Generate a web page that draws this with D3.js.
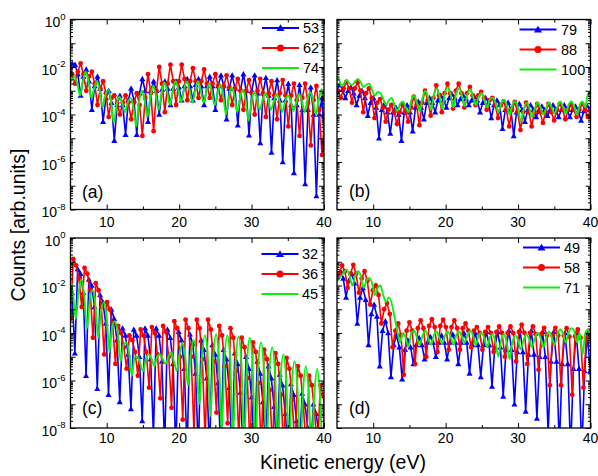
<!DOCTYPE html>
<html><head><meta charset="utf-8">
<script src="https://cdn.jsdelivr.net/npm/d3@7"></script>
<style>
body{margin:0;background:#fff}
svg{display:block}
text{font-family:"Liberation Sans",Arial,sans-serif;fill:#000}
</style>
</head><body>
<svg id="chart" width="598" height="476"></svg>
<script>
// ---------------- data (log10 of counts on a uniform energy grid) ----------------
const energyStep = 0.3875;           // eV between successive points
const xDomain = [5, 40];
const yDomain = [1e-8, 1];
const xMajorTicks = [10, 20, 30, 40];
const xMinorTicks = [15, 25, 35];
const yLabelExponents = [0, -2, -4, -6, -8];
const panelTags = ["(a)", "(b)", "(c)", "(d)"];
const legendA = ["53", "62", "74"];
const legendB = ["79", "88", "100"];
const legendC = ["32", "36", "45"];
const legendD = ["49", "58", "71"];

// panel (a)
const startA1 = 4.85;
const logA1 = [-2.3,-1.85,
 -1.9,-2.3,-3.2,-2.4, -2.1,-2.6,-3.8,-2.8, -2.4,-2.9,-4.3,-3.3, -3.0,-3.5,-5.1,-3.6,
 -3.2,-3.6,-4.85,-3.4, -2.9,-3.4,-4.85,-3.1, -2.5,-3.0,-4.3,-3.0, -2.6,-3.0,-4.0,-2.95,
 -2.6,-2.9,-3.6,-2.9, -2.6,-2.85,-3.4,-2.8, -2.5,-2.8,-3.4,-2.75, -2.5,-2.8,-3.6,-2.8,
 -2.4,-2.8,-3.8,-2.8, -2.35,-2.8,-4.2,-2.9, -2.35,-2.9,-4.45,-2.95, -2.3,-3.0,-4.87,-3.0,
 -2.35,-3.1,-5.2,-3.1, -2.45,-3.2,-5.6,-3.3, -2.55,-3.4,-6.0,-3.4, -2.7,-3.6,-6.46,-3.6,
 -2.75,-3.8,-6.93,-3.8, -2.85,-4.0,-7.43,-4.0, -3.3,-5.5];
const startA2 = 4.85;
const logA2 = [-2.0,-2.3,-2.7,-2.2, -1.85,-2.3,-3.0,-2.4, -2.2,-2.7,-3.6,-2.9, -2.6,-3.1,-4.1,-3.3,
 -3.2,-3.5,-4.0,-3.5, -3.2,-3.5,-4.2,-3.5, -3.1,-3.6,-4.9,-3.3, -2.3,-3.1,-4.7,-3.0,
 -2.0,-2.7,-3.9,-2.7, -1.9,-2.6,-3.6,-2.6, -1.9,-2.5,-3.4,-2.6, -2.05,-2.6,-3.3,-2.6,
 -2.1,-2.7,-3.3,-2.7, -2.3,-2.8,-3.4,-2.8, -2.35,-2.85,-3.6,-2.9, -2.5,-3.0,-3.8,-3.0,
 -2.55,-3.1,-4.0,-3.0, -2.5,-3.1,-4.1,-3.1, -2.6,-3.2,-4.2,-3.1, -2.55,-3.2,-4.5,-3.2,
 -2.7,-3.4,-4.9,-3.3, -2.7,-3.5,-5.3,-3.4, -2.8,-3.8,-5.7,-4.0];
const startA3 = 4.775;
const logA3 = [-2.8,-2.55,-2.4,-2.7, -3.2,-2.6,-2.2,-2.6, -3.3,-2.9,-2.6,-3.0, -3.7,-3.2,-2.95,-3.4,
 -4.35,-3.6,-3.25,-3.5, -3.9,-3.5,-3.3,-3.7, -4.5,-3.5,-3.0,-3.4, -4.1,-3.3,-2.8,-3.2,
 -3.8,-3.1,-2.65,-3.0, -3.6,-3.0,-2.6,-2.95, -3.5,-2.95,-2.6,-2.95, -3.5,-3.0,-2.6,-3.0,
 -3.5,-3.05,-2.7,-3.1, -3.6,-3.1,-2.75,-3.2, -4.0,-3.3,-2.85,-3.2, -3.9,-3.3,-2.95,-3.4,
 -4.25,-3.5,-3.05,-3.3, -3.8,-3.4,-3.1,-3.35, -3.8,-3.45,-3.15,-3.4, -3.9,-3.5,-3.2,-3.4,
 -3.85,-3.5,-3.15,-3.4, -3.9,-3.4,-3.05,-3.4, -4.0,-3.4,-2.95,-3.0];

// panel (b)
const startB1 = 4.6;
const logB1 = [-3.2,-3.0,-2.75,-2.95, -3.3,-3.0,-2.85,-3.1, -3.6,-3.2,-3.0,-3.3, -4.05,-3.5,-3.3,-3.7,
 -5.0,-3.8,-3.55,-3.9, -4.8,-3.9,-3.7,-4.0, -5.1,-3.9,-3.6,-3.9, -4.7,-3.7,-3.45,-3.7,
 -4.2,-3.5,-3.3,-3.5, -3.9,-3.4,-3.2,-3.4, -3.7,-3.3,-3.15,-3.3, -3.6,-3.35,-3.2,-3.35,
 -3.6,-3.4,-3.25,-3.4, -3.9,-3.5,-3.3,-3.5, -4.15,-3.6,-3.4,-3.6, -4.6,-3.8,-3.5,-3.8,
 -4.9,-3.9,-3.55,-3.8, -4.3,-3.8,-3.6,-3.8, -4.1,-3.8,-3.65,-3.8, -4.05,-3.8,-3.6,-3.8,
 -4.1,-3.8,-3.6,-3.8, -4.1,-3.8,-3.65,-3.85, -4.25,-3.85,-3.6,-3.8, -4.2];
const startB2 = 4.75;
const logB2 = [-2.8,-3.0,-3.3,-2.9, -2.63,-2.9,-3.5,-2.9, -2.65,-3.0,-3.9,-3.1, -2.9,-3.3,-4.15,-3.5,
 -3.35,-3.7,-4.3,-3.8, -3.6,-3.9,-4.4,-3.9, -3.6,-3.9,-4.3,-3.7, -3.25,-3.6,-4.45,-3.5,
 -3.0,-3.4,-4.05,-3.3, -2.77,-3.2,-3.9,-3.1, -2.7,-3.1,-3.75,-3.0, -2.7,-3.1,-3.7,-3.1,
 -2.84,-3.2,-3.6,-3.2, -3.05,-3.3,-3.8,-3.4, -3.3,-3.6,-4.15,-3.6, -3.45,-3.8,-4.5,-3.8,
 -3.47,-3.9,-4.65,-3.9, -3.5,-3.9,-4.5,-3.9, -3.55,-3.9,-4.35,-3.9, -3.55,-3.9,-4.25,-3.8,
 -3.55,-3.8,-4.2,-3.8, -3.6,-3.8,-4.1,-3.8, -3.55,-3.8,-4.1,-3.8, -3.6];
const startB3 = 4.8;
const logB3 = [-2.6,-2.45,-2.8,-2.7, -2.55,-2.7,-2.75,-2.6, -2.5,-2.65,-2.85,-2.75, -2.7,-2.95,-3.2,-3.05,
 -3.1,-3.35,-3.6,-3.4, -3.3,-3.6,-3.85,-3.55, -3.45,-3.7,-3.9,-3.4, -3.2,-3.5,-3.85,-3.3,
 -3.0,-3.3,-3.8,-3.2, -2.9,-3.2,-3.75,-3.1, -2.85,-3.15,-3.7,-3.1, -2.9,-3.2,-3.65,-3.15,
 -2.95,-3.25,-3.6,-3.25, -3.1,-3.4,-3.7,-3.35, -3.3,-3.5,-3.9,-3.55, -3.4,-3.6,-4.0,-3.6,
 -3.45,-3.7,-4.3,-3.8, -3.5,-3.7,-4.1,-3.75, -3.5,-3.7,-4.0,-3.75, -3.5,-3.7,-3.95,-3.7,
 -3.45,-3.65,-3.95,-3.6, -3.45,-3.65,-4.0,-3.6, -3.45,-3.7,-3.1,-3.5];

// panel (c)
const startC1 = 4.05;
const logC1 = [-3.0,-1.5,-1.7,-2.3, -4.85,-1.3,-1.5,-2.3, -5.8,-1.75,-2.0,-2.9, -6.35,-2.4,-2.7,-3.6,
 -6.6,-3.0,-3.4,-4.3, -6.9,-3.8,-4.1,-4.9, -7.2,-3.85,-4.1,-5.0, -7.7,-3.8,-4.1,-5.1,
 -8.3,-3.8,-4.1,-5.2, -8.8,-3.85,-4.2,-5.3, -9,-3.95,-4.3,-5.5, -9,-4.05,-4.45,-5.7,
 -9,-4.3,-4.7,-5.9, -9,-4.5,-4.9,-6.1, -9,-4.7,-5.1,-6.3, -9,-4.85,-5.3,-6.5,
 -9,-5.0,-5.5,-6.7, -9,-5.2,-5.7,-6.9, -9,-5.4,-5.9,-7.1, -9,-5.75,-6.2,-7.4,
 -9,-6.15,-6.6,-7.7, -9,-6.55,-7.0,-8.0, -9,-7.0,-7.4,-8.3, -9,-7.4];
const startC2 = 5.0;
const logC2 = [-3.4,-0.88,-1.15,-1.7, -2.9,-1.26,-1.5,-2.2, -4.2,-1.9,-2.2,-2.9, -4.9,-2.7,-3.0,-3.6,
 -5.3,-3.7,-4.0,-4.6, -5.5,-4.1,-4.3,-4.8, -5.8,-3.85,-4.1,-4.8, -6.3,-3.75,-4.0,-4.9,
 -6.75,-3.7,-3.95,-5.0, -7.15,-3.5,-3.8,-5.0, -7.65,-3.44,-3.8,-5.0, -8.2,-3.44,-3.8,-5.1,
 -8.6,-3.44,-3.85,-5.2, -7.35,-3.7,-4.1,-5.4, -7.8,-3.8,-4.2,-5.6, -8.5,-4.2,-4.6,-5.9,
 -9,-4.4,-4.8,-6.1, -9,-4.7,-5.1,-6.4, -9,-4.85,-5.3,-6.6, -9,-5.05,-5.5,-6.8,
 -9,-5.4,-5.8,-7.1, -9,-5.8,-6.2,-7.4, -9,-6.2,-6.6,-7.7, -9];
const startC3 = 4.95;
const logC3 = [-1.7,-2.3,-3.4,-2.3, -1.75,-2.4,-3.8,-2.6, -2.2,-2.8,-4.2,-3.1, -2.7,-3.3,-4.8,-3.7,
 -3.5,-4.0,-5.2,-4.5, -4.4,-4.8,-5.8,-5.0, -5.0,-5.3,-5.6,-5.1, -4.9,-5.1,-5.4,-5.0,
 -4.9,-5.1,-5.3,-5.0, -4.8,-5.2,-5.6,-4.9, -4.4,-5.0,-6.2,-4.9, -4.3,-5.0,-7.0,-5.0,
 -4.1,-4.9,-7.5,-5.0, -4.05,-5.0,-8.2,-5.1, -4.1,-5.1,-8.5,-5.2, -4.15,-5.2,-8.8,-5.3,
 -4.2,-5.3,-9,-5.4, -4.4,-5.5,-9,-5.6, -4.6,-5.7,-9,-5.8, -4.9,-6.0,-9,-6.1,
 -5.2,-6.3,-9,-6.4, -5.4,-6.5,-9,-6.6, -5.5,-6.6,-9,-6.8];

// panel (d)
const startD1 = 4.7;
const logD1 = [-1.9,-1.6,-1.4,-1.7, -2.5,-1.8,-1.5,-1.9, -3.6,-2.5,-2.1,-2.6, -4.5,-3.2,-2.8,-3.3,
 -5.4,-3.9,-3.5,-4.0, -5.85,-4.5,-4.1,-4.6, -5.95,-4.7,-4.3,-4.6, -5.3,-4.5,-4.2,-4.5,
 -5.1,-4.4,-4.15,-4.4, -5.0,-4.4,-4.1,-4.4, -5.1,-4.4,-4.05,-4.4, -5.3,-4.4,-4.0,-4.4,
 -5.7,-4.5,-4.0,-4.5, -5.85,-4.5,-3.95,-4.5, -6.25,-4.6,-3.95,-4.6, -6.67,-4.7,-3.9,-4.7,
 -7.0,-4.8,-3.9,-4.8, -7.3,-4.9,-3.9,-4.9, -7.6,-5.0,-3.95,-5.0, -8.2,-5.2,-3.95,-5.2,
 -8.8,-5.3,-4.0,-5.3, -9,-5.5,-4.0,-5.5, -9,-5.6,-4.05,-5.6, -9];
const startD2 = 4.925;
const logD2 = [-1.7,-1.5,-1.15,-1.4, -2.1,-1.5,-1.13,-1.5, -2.3,-1.7,-1.4,-1.8, -2.8,-2.2,-2.0,-2.4,
 -3.6,-3.0,-2.74,-3.2, -4.6,-3.9,-3.6,-4.1, -5.76,-3.9,-3.55,-3.9, -5.3,-3.8,-3.47,-3.8,
 -5.0,-3.7,-3.42,-3.75, -4.8,-3.7,-3.44,-3.75, -4.7,-3.75,-3.47,-3.8, -4.7,-3.8,-3.6,-3.9,
 -4.6,-3.9,-3.75,-4.0, -4.7,-3.95,-3.75,-4.0, -4.8,-3.95,-3.72,-4.0, -5.0,-4.0,-3.72,-4.0,
 -5.2,-3.95,-3.65,-4.0, -5.3,-4.0,-3.72,-4.05, -5.55,-4.05,-3.78,-4.1, -6.2,-4.1,-3.78,-4.1,
 -6.2,-4.1,-3.8,-4.15, -6.6,-4.15,-3.85,-4.2, -6.3,-4.2,-3.9,-4.3];
const startD3 = 4.8;
const logD3 = [-1.9,-1.75,-1.6,-1.45, -1.33,-1.6,-2.0,-1.6, -1.4,-1.6,-2.1,-1.8, -1.68,-1.9,-2.4,-2.1,
 -2.0,-2.4,-2.7,-2.5, -2.75,-3.3,-3.9,-4.4, -4.0,-4.2,-4.6,-4.0, -3.9,-4.2,-4.5,-4.1,
 -3.9,-4.2,-4.5,-4.1, -3.95,-4.2,-4.45,-4.1, -3.95,-4.15,-4.5,-4.1, -3.95,-4.15,-4.4,-4.1,
 -3.9,-4.1,-4.5,-4.1, -4.0,-4.2,-4.6,-4.2, -4.05,-4.4,-5.0,-4.3, -4.05,-4.4,-5.1,-4.4,
 -4.1,-4.3,-4.7,-4.3, -4.05,-4.25,-4.6,-4.2, -4.0,-4.2,-4.6,-4.2, -3.95,-4.15,-4.5,-4.1,
 -3.85,-4.0,-4.4,-4.0, -3.8,-3.9,-4.4,-4.0, -4.9,-4.0,-3.85,-4.7];

// ---------------- layout / style ----------------
const svg = d3.select("#chart");
const styles = [
  {color: "#0000ff", marker: "triangle", width: 1.6},
  {color: "#ff0000", marker: "circle", width: 1.6},
  {color: "#10ee10", marker: null, width: 1.9}
];
const panels = [
  {id: "a", left: 70.5, right: 324, top: 19.5, bottom: 209.5, yLabels: true,
   legend: legendA, legX: 262, legY: 28, txtX: 303, tagX: 82, tagY: 198,
   starts: [startA1, startA2, startA3], logs: [logA1, logA2, logA3], tag: panelTags[0], xLabY: 227},
  {id: "b", left: 337, right: 590.5, top: 19.5, bottom: 209.5, yLabels: false,
   legend: legendB, legX: 519.5, legY: 29.5, txtX: 561, tagX: 349, tagY: 197,
   starts: [startB1, startB2, startB3], logs: [logB1, logB2, logB3], tag: panelTags[1], xLabY: 227},
  {id: "c", left: 70.5, right: 324, top: 238, bottom: 428, yLabels: true,
   legend: legendC, legX: 261.5, legY: 254, txtX: 302, tagX: 82, tagY: 413.5,
   starts: [startC1, startC2, startC3], logs: [logC1, logC2, logC3], tag: panelTags[2], xLabY: 443},
  {id: "d", left: 337, right: 590.5, top: 238, bottom: 428, yLabels: false,
   legend: legendD, legX: 523, legY: 247.5, txtX: 564, tagX: 349, tagY: 413.5,
   starts: [startD1, startD2, startD3], logs: [logD1, logD2, logD3], tag: panelTags[3], xLabY: 443}
];

const decadeTicks = d3.range(-8, 1).map(e => Math.pow(10, e));
const minorYTicks = [];
for (let e = -8; e < 0; e++) for (let k = 2; k <= 9; k++) minorYTicks.push(k * Math.pow(10, e));

function marker(sel, kind, cx, cy, big) {
  if (kind === "triangle") {
    sel.append("path")
      .attr("d", d3.symbol(d3.symbolTriangle, big ? 28 : 16)())
      .attr("transform", `translate(${cx},${cy + (big ? 0.8 : 0.5)})`)
      .attr("fill", "#0000ff");
  } else if (kind === "circle") {
    sel.append("circle").attr("cx", cx).attr("cy", cy).attr("r", big ? 3.5 : 2.4).attr("fill", "#ff0000");
  }
}

panels.forEach(p => {
  const x = d3.scaleLinear().domain(xDomain).range([p.left, p.right]);
  const y = d3.scaleLog().domain(yDomain).range([p.bottom, p.top]);
  const g = svg.append("g");
  const clipId = "clip-" + p.id;
  svg.append("clipPath").attr("id", clipId).append("rect")
    .attr("x", p.left).attr("y", p.top).attr("width", p.right - p.left).attr("height", p.bottom - p.top);
  const plot = g.append("g").attr("clip-path", `url(#${clipId})`);

  p.logs.forEach((logs, si) => {
    const st = styles[si];
    const pts = logs.map((v, j) => ({e: p.starts[si] + j * energyStep, c: Math.pow(10, v)}));
    const line = d3.line().x(d => x(d.e)).y(d => y(d.c))
      .curve(st.marker ? d3.curveLinear : d3.curveMonotoneX);
    plot.append("path").attr("d", line(pts)).attr("fill", "none")
      .attr("stroke", st.color).attr("stroke-width", st.width).attr("stroke-linejoin", "round");
    if (st.marker) {
      const mg = plot.append("g");
      pts.forEach(d => marker(mg, st.marker, x(d.e), y(d.c), false));
    }
  });

  // axes (ticks inward on all four sides)
  const axes = g.append("g").attr("class", "axes");
  const mk = (gen, tx, ty) => {
    const a = axes.append("g").attr("transform", `translate(${tx},${ty})`).call(gen);
    a.select(".domain").remove();
    a.selectAll("line").attr("stroke", "#000").attr("stroke-width", 1);
    return a;
  };
  mk(d3.axisBottom(x).tickValues(xMajorTicks).tickSize(-5).tickSizeOuter(0).tickFormat(""), 0, p.bottom);
  mk(d3.axisBottom(x).tickValues(xMinorTicks).tickSize(-3).tickSizeOuter(0).tickFormat(""), 0, p.bottom);
  mk(d3.axisTop(x).tickValues(xMajorTicks).tickSize(-5).tickSizeOuter(0).tickFormat(""), 0, p.top);
  mk(d3.axisTop(x).tickValues(xMinorTicks).tickSize(-3).tickSizeOuter(0).tickFormat(""), 0, p.top);
  mk(d3.axisLeft(y).tickValues(decadeTicks).tickSize(-5).tickSizeOuter(0).tickFormat(""), p.left, 0);
  mk(d3.axisLeft(y).tickValues(minorYTicks).tickSize(-2.5).tickSizeOuter(0).tickFormat(""), p.left, 0);
  mk(d3.axisRight(y).tickValues(decadeTicks).tickSize(-5).tickSizeOuter(0).tickFormat(""), p.right, 0);
  mk(d3.axisRight(y).tickValues(minorYTicks).tickSize(-2.5).tickSizeOuter(0).tickFormat(""), p.right, 0);

  g.append("rect").attr("x", p.left).attr("y", p.top)
    .attr("width", p.right - p.left).attr("height", p.bottom - p.top)
    .attr("fill", "none").attr("stroke", "#000").attr("stroke-width", 1.3);

  // x tick labels
  xMajorTicks.forEach(v => {
    g.append("text").attr("x", x(v)).attr("y", p.xLabY).attr("text-anchor", "middle")
      .attr("font-size", 14).text(v);
  });
  // y tick labels 10^n
  if (p.yLabels) {
    yLabelExponents.forEach(e => {
      const t = g.append("text").attr("x", p.left - 5).attr("y", y(Math.pow(10, e)) + 7.5)
        .attr("text-anchor", "end").attr("font-size", 14);
      t.append("tspan").text("10");
      t.append("tspan").attr("font-size", 9.5).attr("dy", -7.5).text(String(e));
    });
  }
  // panel tag
  g.append("text").attr("x", p.tagX).attr("y", p.tagY).attr("font-size", 17.5).text(p.tag);

  // legend
  p.legend.forEach((lab, i) => {
    const ly = p.legY + i * 20;
    const st = styles[i];
    g.append("line").attr("x1", p.legX).attr("x2", p.legX + 37).attr("y1", ly).attr("y2", ly)
      .attr("stroke", st.color).attr("stroke-width", st.width + 0.2);
    if (st.marker) marker(g, st.marker, p.legX + 18.5, ly, true);
    g.append("text").attr("x", p.txtX).attr("y", ly).attr("dy", "0.36em")
      .attr("font-size", 14.5).text(lab);
  });
});

// axis titles
svg.append("text").attr("transform", "translate(25,225) rotate(-90)")
  .attr("text-anchor", "middle").attr("font-size", 19.5).text("Counts [arb.units]");
svg.append("text").attr("x", 343).attr("y", 469).attr("text-anchor", "middle")
  .attr("font-size", 19.5).text("Kinetic energy (eV)");
</script>
</body></html>
